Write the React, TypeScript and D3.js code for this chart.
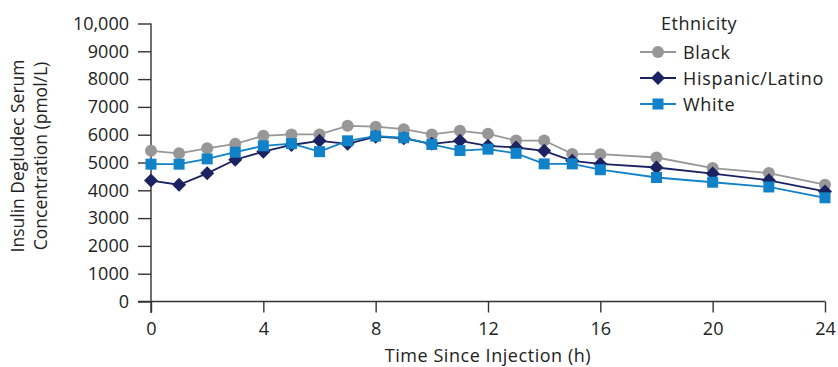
import * as d3 from 'd3'
import { useEffect, useRef } from 'react'

const hours = [0, 1, 2, 3, 4, 5, 6, 7, 8, 9, 10, 11, 12, 13, 14, 15, 16, 18, 20, 22, 24]
const black = [5420, 5330, 5510, 5670, 5960, 6010, 6010, 6320, 6290, 6200, 6010, 6140, 6030, 5790, 5790, 5310, 5300, 5180, 4800, 4620, 4200]
const hispanic = [4350, 4200, 4610, 5100, 5390, 5630, 5780, 5670, 5930, 5870, 5670, 5780, 5600, 5540, 5420, 5060, 4950, 4820, 4600, 4360, 3960]
const white = [4940, 4940, 5130, 5370, 5600, 5680, 5390, 5780, 5950, 5890, 5650, 5430, 5480, 5330, 4950, 4950, 4740, 4460, 4290, 4120, 3730]
const xTicks = [0, 4, 8, 12, 16, 20, 24]
const yTicks = [0, 1000, 2000, 3000, 4000, 5000, 6000, 7000, 8000, 9000, 10000]

const series = [
  { name: 'Black', values: black, color: '#979797', shape: 'circle' },
  { name: 'Hispanic/Latino', values: hispanic, color: '#1b2262', shape: 'diamond' },
  { name: 'White', values: white, color: '#1282c8', shape: 'square' },
]

const font = '"Open Sans", sans-serif'
const ink = '#222'

function drawMarker(g: any, shape: string, color: string) {
  if (shape === 'circle') {
    g.append('circle').attr('r', 6).attr('fill', color)
  } else if (shape === 'diamond') {
    g.append('path').attr('d', 'M0,-7L7,0L0,7L-7,0Z').attr('fill', color)
  } else {
    g.append('rect').attr('x', -5.5).attr('y', -5.5).attr('width', 11).attr('height', 11).attr('fill', color)
  }
}

export default function App() {
  const ref = useRef<SVGSVGElement>(null)

  useEffect(() => {
    const svg = d3.select(ref.current)
    svg.selectAll('*').remove()

    const x = d3.scaleLinear().domain([0, 24]).range([151, 825])
    const y = d3.scaleLinear().domain([0, 10000]).range([301.5, 23.5])
    const axisColor = '#333'

    // y axis
    const ya = svg.append('g').attr('transform', 'translate(151,0)')
      .call(d3.axisLeft(y).tickValues(yTicks).tickSize(13).tickPadding(9)
        .tickFormat((d: any) => d === 10000 ? '10,000' : String(d)))
    ya.select('.domain').attr('d', `M0,${y(10000)}V313`)
    ya.selectAll('line, path').attr('stroke', axisColor).attr('stroke-width', 1.4)
    ya.selectAll('text').attr('font-family', font).attr('font-size', 18).attr('fill', ink)

    // x axis
    const xa = svg.append('g').attr('transform', `translate(0,${y(0)})`)
      .call(d3.axisBottom(x).tickValues(xTicks).tickSize(11).tickPadding(10))
    xa.select('.domain').attr('d', `M138,0H${x(24)}`)
    xa.selectAll('line, path').attr('stroke', axisColor).attr('stroke-width', 1.4)
    xa.selectAll('text').attr('font-family', font).attr('font-size', 18).attr('fill', ink)

    // titles
    svg.append('text').attr('x', x(12)).attr('y', 362).attr('text-anchor', 'middle')
      .attr('font-family', font).attr('font-size', 18).attr('letter-spacing', 0.55).attr('fill', ink)
      .text('Time Since Injection (h)')
    const yt = svg.append('text').attr('transform', 'translate(0,156) rotate(-90)')
      .attr('text-anchor', 'middle').attr('font-family', font).attr('font-size', 17.5).attr('fill', ink)
    yt.append('tspan').attr('x', 0).attr('y', 24).text('Insulin Degludec Serum')
    yt.append('tspan').attr('x', 0).attr('y', 47).text('Concentration (pmol/L)')

    // lines and markers
    const line = d3.line<number>().x((_, i) => x(hours[i])).y(d => y(d))
    series.forEach(s => {
      svg.append('path').attr('d', line(s.values)).attr('fill', 'none')
        .attr('stroke', s.color).attr('stroke-width', 1.8)
      s.values.forEach((v, i) => {
        const g = svg.append('g').attr('transform', `translate(${x(hours[i])},${y(v)})`)
        drawMarker(g, s.shape, s.color)
      })
    })

    // legend
    svg.append('text').attr('x', 661).attr('y', 30).attr('font-family', font)
      .attr('font-size', 18).attr('letter-spacing', 0.5).attr('fill', ink).text('Ethnicity')
    series.forEach((s, i) => {
      const ly = 52 + i * 26
      svg.append('line').attr('x1', 640).attr('x2', 676).attr('y1', ly).attr('y2', ly)
        .attr('stroke', s.color).attr('stroke-width', 1.8)
      const g = svg.append('g').attr('transform', `translate(658,${ly})`)
      drawMarker(g, s.shape, s.color)
      svg.append('text').attr('x', 683).attr('y', ly + 6.5).attr('font-family', font)
        .attr('font-size', 18).attr('letter-spacing', 0.7).attr('fill', ink).text(s.name)
    })
  }, [])

  return (
    <svg ref={ref} width={838} height={367} style={{ position: 'absolute', left: 0, top: 0, background: '#fff' }} />
  )
}
